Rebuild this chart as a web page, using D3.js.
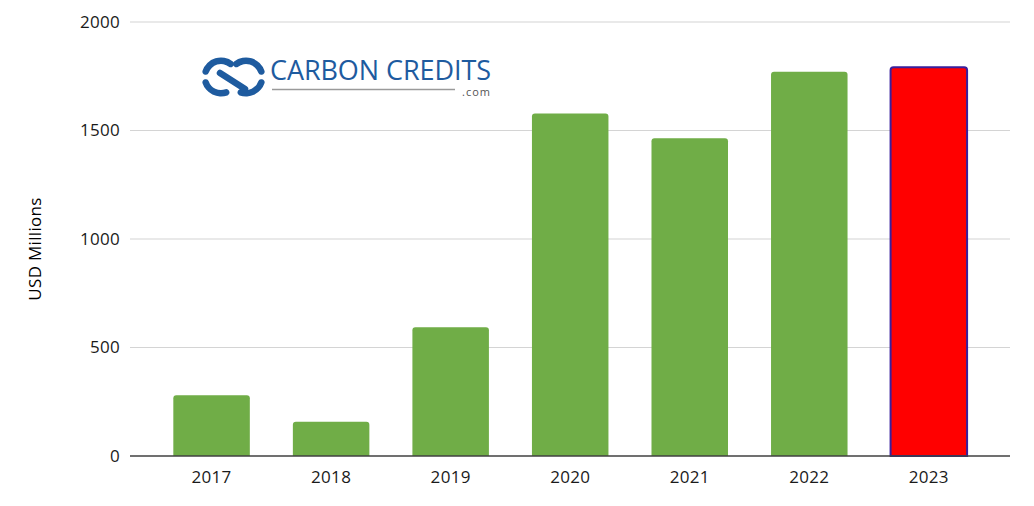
<!DOCTYPE html>
<html><head><meta charset="utf-8">
<script src="https://cdn.jsdelivr.net/npm/d3@7"></script>
<style>body{margin:0;background:#fff}svg{display:block}text{font-family:"Open Sans","Noto Sans",sans-serif}</style>
</head><body>
<svg id="c" width="1034" height="506"></svg>
<script>
const years = ["2017","2018","2019","2020","2021","2022","2023"];
const values = [280, 158, 593, 1578, 1464, 1771, 1791];
const yTicks = [0, 500, 1000, 1500, 2000];
const highlight = ["2023"];

const svg = d3.select("#c");
const x = d3.scaleBand().domain(years).range([151.8, 988.6]).paddingInner(0.36).paddingOuter(0.18);
const y = d3.scaleLinear().domain([0, 2000]).range([456, 22]);
const gx0 = 130, gx1 = 1010;
const ink = "#1a1a1a";

// gridlines
svg.append("g").selectAll("line").data(yTicks.filter(d => d > 0)).join("line")
  .attr("x1", gx0).attr("x2", gx1).attr("y1", d => y(d)).attr("y2", d => y(d))
  .attr("stroke", "#d4d4d4").attr("stroke-width", 1.2);

// y axis labels
const ya = svg.append("g").attr("transform", `translate(${gx0},0)`)
  .call(d3.axisLeft(y).tickValues(yTicks).tickFormat(d3.format("d")).tickSize(0).tickPadding(10));
ya.select(".domain").remove();
ya.selectAll("text").attr("font-size", 17).attr("fill", ink).attr("letter-spacing", 0.3)
  .style("font-family", '"Open Sans",sans-serif');

// bars
svg.append("g").selectAll("path").data(years).join("path")
  .attr("d", (d, i) => {
    const x0 = x(d), w = x.bandwidth(), y0 = y(values[i]), yb = y(0), r = 3;
    return `M${x0},${yb}V${y0 + r}Q${x0},${y0} ${x0 + r},${y0}H${x0 + w - r}Q${x0 + w},${y0} ${x0 + w},${y0 + r}V${yb}Z`;
  })
  .attr("fill", d => highlight.includes(d) ? "#ff0000" : "#70ad47")
  .attr("stroke", d => highlight.includes(d) ? "#3a1f9c" : "none")
  .attr("stroke-width", d => highlight.includes(d) ? 2 : 0);

// x axis
const xa = svg.append("g").attr("transform", `translate(0,${y(0)})`)
  .call(d3.axisBottom(x).tickSize(0).tickPadding(15));
xa.select(".domain").remove();
xa.selectAll("text").attr("font-size", 17).attr("fill", ink).attr("letter-spacing", 0.3)
  .style("font-family", '"Open Sans",sans-serif');
svg.append("line").attr("x1", gx0).attr("x2", gx1).attr("y1", y(0)).attr("y2", y(0))
  .attr("stroke", "#404040").attr("stroke-width", 1.3);

// y title
svg.append("text").attr("transform", "translate(41,249) rotate(-90)")
  .attr("text-anchor", "middle").attr("font-size", 17).attr("letter-spacing", 0.3)
  .attr("fill", "#000").text("USD Millions");

// logo
const logo = svg.append("g");
const blue = "#1e5b9f";
const arc = d3.arc().cornerRadius(3);
const deg = Math.PI / 180;
const rings = [
  {cx: 221, a0: -82, a1: 48}, {cx: 221, a0: 150, a1: 262},
  {cx: 246, a0: -48, a1: 82}, {cx: 246, a0: 98, a1: 210}
];
logo.selectAll("path").data(rings).join("path")
  .attr("transform", d => `translate(${d.cx},77)`)
  .attr("d", d => arc({innerRadius: 13, outerRadius: 19.5, startAngle: d.a0 * deg, endAngle: d.a1 * deg}))
  .attr("fill", blue);
logo.append("line").attr("x1", 220).attr("y1", 73).attr("x2", 245).attr("y2", 89)
  .attr("stroke", blue).attr("stroke-width", 6.5).attr("stroke-linecap", "round");
logo.append("text").attr("x", 270).attr("y", 80).attr("font-size", 27).attr("fill", blue)
  .attr("font-weight", 500).style("font-family", '"Open Sans",sans-serif').attr("textLength", 221).text("CARBON CREDITS");
logo.append("line").attr("x1", 272).attr("x2", 455).attr("y1", 89.5).attr("y2", 89.5)
  .attr("stroke", "#9a9a9a").attr("stroke-width", 1.3);
logo.append("text").attr("x", 491).attr("y", 96).attr("text-anchor", "end").attr("font-size", 11)
  .attr("fill", "#555").attr("letter-spacing", 1).text(".com");
</script>
</body></html>
